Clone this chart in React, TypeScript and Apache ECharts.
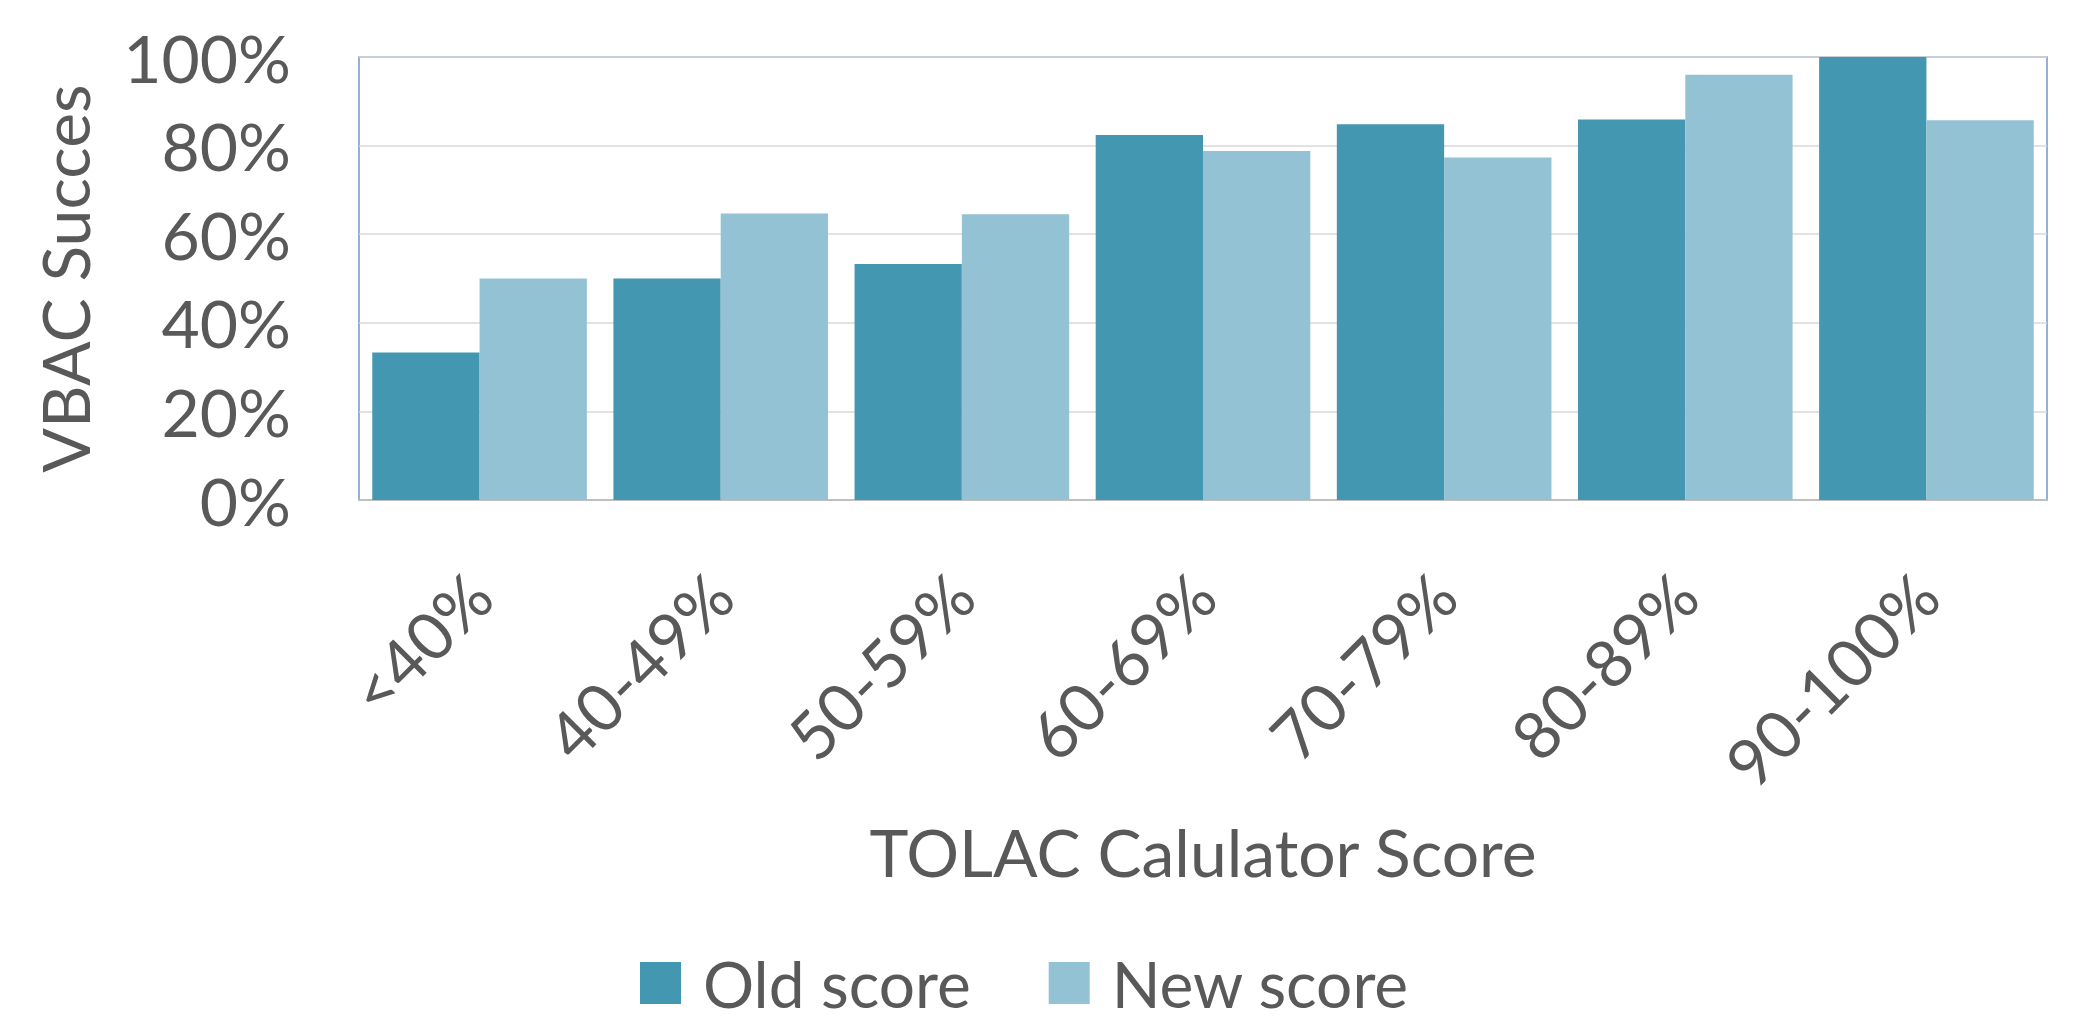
import React, { useEffect, useRef } from "react";
import * as echarts from "echarts";

const categories = ["<40%", "40-49%", "50-59%", "60-69%", "70-79%", "80-89%", "90-100%"];
const oldScore = [33.3, 50.0, 53.3, 82.4, 84.8, 85.9, 100];
const newScore = [50.0, 64.7, 64.5, 78.8, 77.3, 96.0, 85.7];
const seriesNames = ["Old score", "New score"];
const yTicks = [0, 20, 40, 60, 80, 100];

const FONT = "Lato";
const TEXT = "#595959";

export default function App() {
  const ref = useRef<HTMLDivElement>(null);
  useEffect(() => {
    document.body.style.margin = "0";
    const chart = echarts.init(ref.current!, null, { renderer: "svg" });
    chart.setOption({
      animation: false,
      backgroundColor: "#ffffff",
      textStyle: { fontFamily: FONT, color: TEXT },
      grid: {
        left: 359,
        right: 2075 - 2047,
        top: 57,
        bottom: 1023 - 500,
        show: true,
        borderColor: "#7396CC",
        borderWidth: 1.5,
        containLabel: false,
      },
      legend: {
        data: seriesNames,
        left: 640,
        top: 951,
        padding: 0,
        itemWidth: 41,
        itemHeight: 42,
        itemGap: 78,
        icon: "rect",
        textStyle: {
          fontFamily: FONT,
          fontSize: 64,
          lineHeight: 60,
          color: TEXT,
          padding: [0, 0, 0, 17],
        },
      },
      xAxis: {
        type: "category",
        data: categories,
        name: "TOLAC Calulator Score",
        nameLocation: "middle",
        nameGap: 318,
        nameTextStyle: { fontFamily: FONT, fontSize: 66, color: TEXT },
        axisLine: { show: true, lineStyle: { color: "#BFBFBF", width: 2 } },
        axisTick: { show: false },
        axisLabel: {
          rotate: 45,
          margin: 84,
          fontFamily: FONT,
          fontSize: 66,
          color: TEXT,
          interval: 0,
        },
      },
      yAxis: {
        type: "value",
        min: 0,
        max: 100,
        interval: 20,
        name: "VBAC Succes",
        nameLocation: "middle",
        nameGap: 262,
        nameTextStyle: { fontFamily: FONT, fontSize: 66, color: TEXT },
        axisLine: { show: false },
        axisTick: { show: false },
        splitLine: { lineStyle: { color: "#D9D9D9", width: 1.5 } },
        axisLabel: {
          margin: 68,
          fontFamily: FONT,
          fontSize: 66,
          color: TEXT,
          formatter: (v: number) => (yTicks.includes(v) ? v + "%" : ""),
        },
      },
      series: [
        {
          name: seriesNames[0],
          type: "bar",
          data: oldScore,
          barGap: "0%",
          barCategoryGap: "11%",
          itemStyle: { color: "#4397B0" },
        },
        {
          name: seriesNames[1],
          type: "bar",
          data: newScore,
          barGap: "0%",
          barCategoryGap: "11%",
          itemStyle: { color: "#93C2D4" },
        },
      ],
    });
    return () => chart.dispose();
  }, []);
  return (
    <div
      ref={ref}
      style={{ position: "fixed", left: 0, top: 0, width: 2075, height: 1023 }}
    />
  );
}
